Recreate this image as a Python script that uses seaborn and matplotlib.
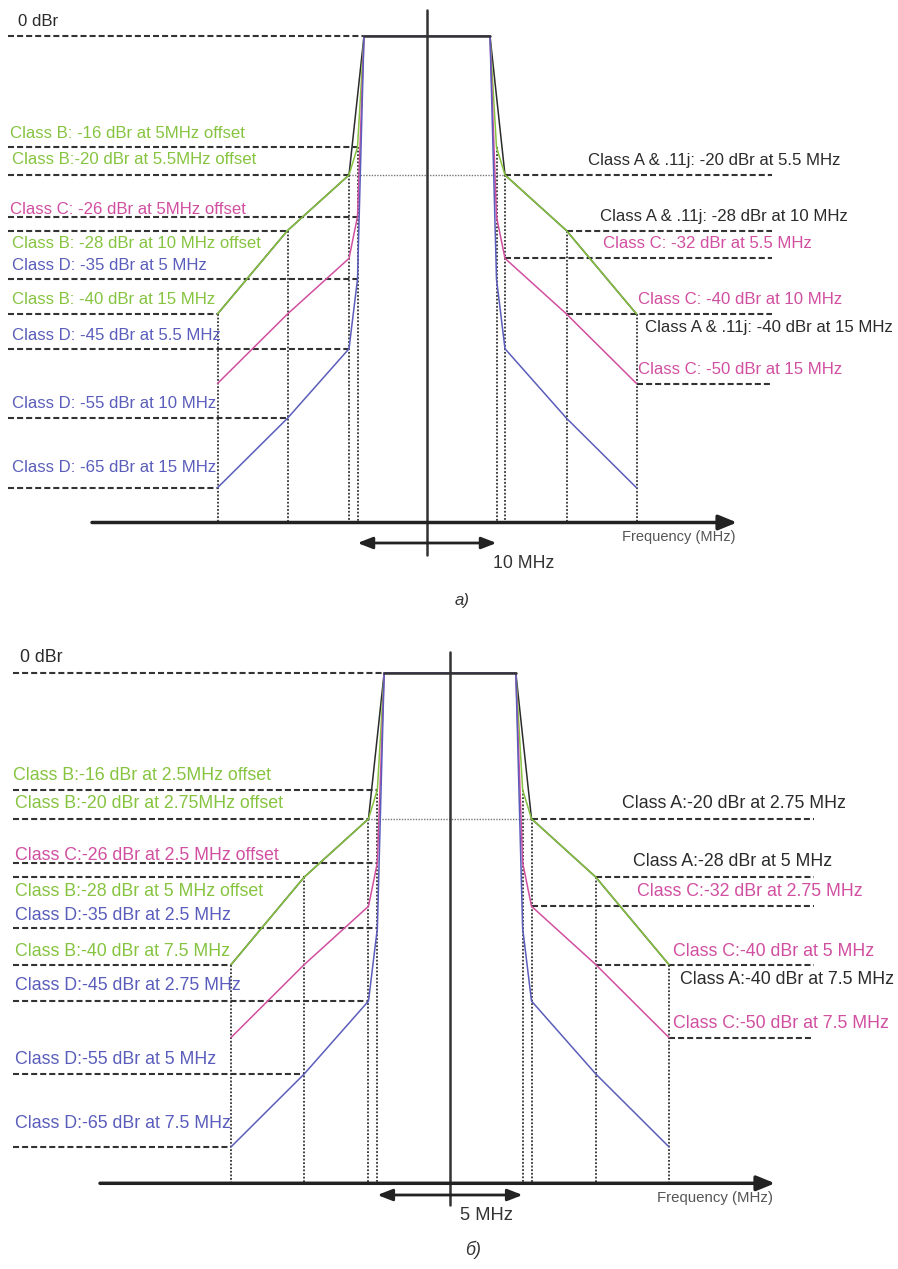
import numpy as np
import seaborn as sns
import matplotlib.pyplot as plt

sns.set_style("white")
plt.rcParams["font.family"] = ["Liberation Sans", "DejaVu Sans"]

# corner offsets of the masks (MHz), top panel (20 MHz) and bottom panel (10 MHz)
freq_a = [4.5, 5, 5.5, 10, 15]
freq_b = [2.25, 2.5, 2.75, 5, 7.5]

# mask levels (dBr) at those corners, same for both panels
class_a = [0, None, -20, -28, -40]
class_b = [0, -16, -20, -28, -40]
class_c = [0, -26, -32, -40, -50]
class_d = [0, -35, -45, -55, -65]

# dashed reference lines: (mask, corner index)
left_refs = [(class_b, 0), (class_b, 1), (class_b, 2), (class_c, 1), (class_b, 3),
             (class_d, 1), (class_b, 4), (class_d, 2), (class_d, 3), (class_d, 4)]
right_refs = [(class_a, 2), (class_a, 3), (class_c, 2), (class_c, 3), (class_c, 4)]

GREEN, PINK, BLUE, DARK = "#86c440", "#d14fa0", "#5a5dbb", "#2b2b2b"

labels_a = [
    ("0 dBr", DARK, 18, 21),
    ("Class B: -16 dBr at 5MHz offset", GREEN, 10, 133),
    ("Class B:-20 dBr at 5.5MHz offset", GREEN, 12, 160),
    ("Class C: -26 dBr at 5MHz offset", PINK, 10, 209),
    ("Class B: -28 dBr at 10 MHz offset", GREEN, 12, 244),
    ("Class D: -35 dBr at 5 MHz", BLUE, 12, 265),
    ("Class B: -40 dBr at 15 MHz", GREEN, 12, 300),
    ("Class D: -45 dBr at 5.5 MHz", BLUE, 12, 335),
    ("Class D: -55 dBr at 10 MHz", BLUE, 12, 404),
    ("Class D: -65 dBr at 15 MHz", BLUE, 12, 467),
    ("Class A & .11j: -20 dBr at 5.5 MHz", DARK, 588, 160),
    ("Class A & .11j: -28 dBr at 10 MHz", DARK, 600, 216),
    ("Class C: -32 dBr at 5.5 MHz", PINK, 603, 244),
    ("Class C: -40 dBr at 10 MHz", PINK, 638, 300),
    ("Class A & .11j: -40 dBr at 15 MHz", DARK, 645, 328),
    ("Class C: -50 dBr at 15 MHz", PINK, 638, 370),
]
labels_b = [
    ("0 dBr", DARK, 20, 658),
    ("Class B:-16 dBr at 2.5MHz offset", GREEN, 13, 775),
    ("Class B:-20 dBr at 2.75MHz offset", GREEN, 15, 804),
    ("Class C:-26 dBr at 2.5 MHz offset", PINK, 15, 855),
    ("Class B:-28 dBr at 5 MHz offset", GREEN, 15, 891),
    ("Class D:-35 dBr at 2.5 MHz", BLUE, 15, 915),
    ("Class B:-40 dBr at 7.5 MHz", GREEN, 15, 951),
    ("Class D:-45 dBr at 2.75 MHz", BLUE, 15, 986),
    ("Class D:-55 dBr at 5 MHz", BLUE, 15, 1059),
    ("Class D:-65 dBr at 7.5 MHz", BLUE, 15, 1124),
    ("Class A:-20 dBr at 2.75 MHz", DARK, 622, 804),
    ("Class A:-28 dBr at 5 MHz", DARK, 633, 862),
    ("Class C:-32 dBr at 2.75 MHz", PINK, 637, 892),
    ("Class C:-40 dBr at 5 MHz", PINK, 673, 951),
    ("Class A:-40 dBr at 7.5 MHz", DARK, 680, 979),
    ("Class C:-50 dBr at 7.5 MHz", PINK, 673, 1023),
]

W, H = 898, 1269
# schematic (not to scale) position of the corners, in pixels from centre
P_SCH = [63, 69.5, 78, 139.5, 209.5]

fig = plt.figure(figsize=(W / 100, H / 100), dpi=100)


def panel(F, labels, top, bottom, center, y0, s, kx, fs, lay):
    ax = fig.add_axes([0, 1 - bottom / H, 1, (bottom - top) / H])
    slope = (P_SCH[-1] - P_SCH[-2]) / (F[-1] - F[-2])
    Fe = np.r_[0, F, F[-1] * 4]
    Pe = np.r_[0, P_SCH, P_SCH[-1] + slope * F[-1] * 3] * kx

    def fwd(f):
        return np.sign(f) * np.interp(np.abs(f), Fe, Pe)

    def inv(p):
        return np.sign(p) * np.interp(np.abs(p), Pe, Fe)

    ax.set_xscale("function", functions=(fwd, inv))
    ax.set_xlim(inv(-center), inv(W - center))
    ax.set_ylim(-(bottom - y0) / s, (y0 - top) / s)
    ax.axis("off")

    def xpx(px):
        return float(inv(px - center))

    def ypx(py):
        return -(py - y0) / s

    dash = (0, (2.9, 1.45))
    # dashed level lines
    for lv, i in left_refs:
        ax.plot([xpx(lay["left"]), -F[i]], [lv[i], lv[i]], ls=dash, color="#333", lw=1.5)
    for lv, i in right_refs:
        ax.plot([F[i], xpx(lay["right"])], [lv[i], lv[i]], ls=dash, color="#333", lw=1.5)
    ax.plot([-F[2], F[2]], [-20, -20], ls=(0, (1, 1)), color="#777", lw=1)

    # dotted verticals down to the frequency axis
    for i in range(1, len(F)):
        for sg in (-1, 1):
            ax.plot([sg * F[i], sg * F[i]], [class_b[i], -70], ls=(0, (1, 1)), color="#333", lw=1.3)

    # masks
    for lv, col in [(class_a, DARK), (class_b, GREEN), (class_c, PINK), (class_d, BLUE)]:
        f = [x for x, v in zip(F, lv) if v is not None]
        v = [v for v in lv if v is not None]
        sns.lineplot(x=[-x for x in f[::-1]] + f, y=v[::-1] + v, color=col, lw=1.1,
                     ax=ax, sort=False, estimator=None)
    ax.plot([-F[0], F[0]], [0, 0], color="#333", lw=1.8)

    # axes
    ax.plot([0, 0], [ypx(lay["vbot"]), ypx(lay["vtop"])], color="#333", lw=1.8)
    ax.annotate("", xy=(xpx(lay["xend"]), -70), xytext=(xpx(lay["xstart"]), -70),
                arrowprops=dict(arrowstyle="-|>,head_length=1.1,head_width=0.45", color="#222",
                                lw=2.5, shrinkA=0, shrinkB=0))
    ax.annotate("", xy=(F[1], ypx(lay["bw_y"])), xytext=(-F[1], ypx(lay["bw_y"])),
                arrowprops=dict(arrowstyle="<|-|>,head_length=0.9,head_width=0.35", color="#222",
                                lw=2, shrinkA=0, shrinkB=0))

    for txt, col, x, y in labels:
        fig.text(x / W, 1 - y / H, txt, color=col, fontsize=fs, va="center", ha="left")
    fig.text(lay["freq_xy"][0] / W, 1 - lay["freq_xy"][1] / H, "Frequency (MHz)",
             color="#555", fontsize=lay["freq_fs"], va="center")
    fig.text(lay["bw_xy"][0] / W, 1 - lay["bw_xy"][1] / H, lay["bw"], color="#333",
             fontsize=lay["bw_fs"], va="center")
    fig.text(lay["tag_xy"][0] / W, 1 - lay["tag_xy"][1] / H, lay["tag"], color="#333",
             fontsize=fs, style="italic", va="center")


panel(freq_a, labels_a, 0, 620, 427, 36, 6.95, 1.0, 12.1,
      dict(left=8, right=772, vtop=10, vbot=555, xstart=92, xend=737, bw_y=543,
           freq_xy=(622, 537), freq_fs=10.5, bw_xy=(493, 563), bw_fs=12.7, bw="10 MHz",
           tag_xy=(455, 600), tag="а)"))
panel(freq_b, labels_b, 630, 1269, 450, 673, 7.29, 1.045, 12.8,
      dict(left=13, right=814, vtop=652, vbot=1205, xstart=100, xend=775, bw_y=1195,
           freq_xy=(657, 1198), freq_fs=10.8, bw_xy=(460, 1215), bw_fs=13.2, bw="5 MHz",
           tag_xy=(465, 1250), tag="б)"))

fig.savefig("out.png", dpi=100, facecolor="white")
